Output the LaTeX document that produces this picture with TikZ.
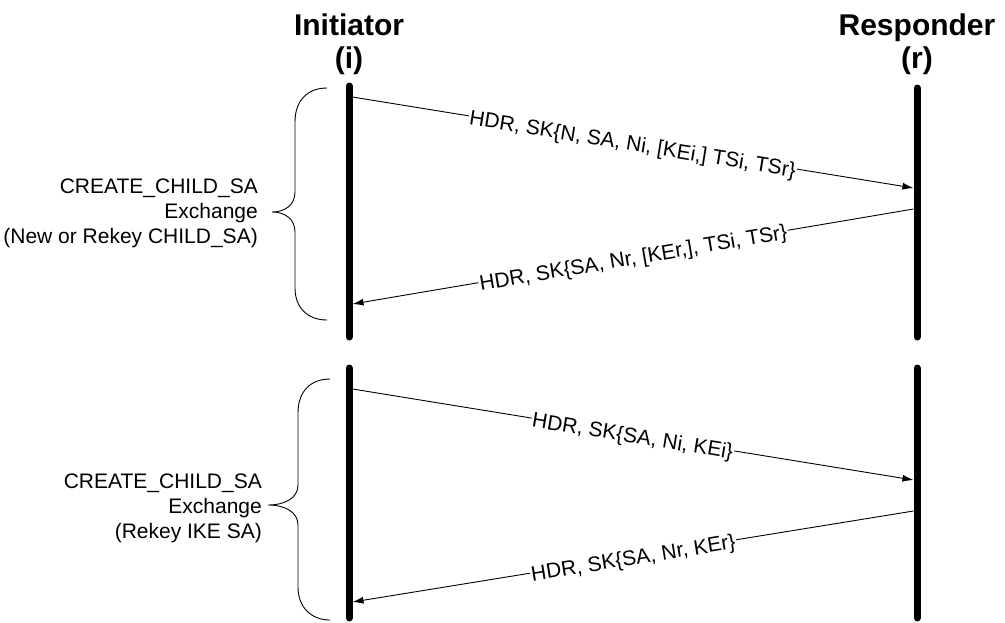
\documentclass[tikz,border=0pt]{standalone}
\usepackage{fontspec}
\setmainfont{Liberation Sans}
\usetikzlibrary{arrows.meta}
\begin{document}
\begin{tikzpicture}[x=1pt,y=-1pt,
  life/.style={line width=7pt, line cap=round},
  msg/.style={line width=0.9pt, -{Latex[length=11pt,width=7pt]}},
  mlabel/.style={sloped, fill=white, inner sep=1pt, yshift=-3pt, font=\fontsize{21}{25}\selectfont},
  hdr/.style={font=\fontsize{30}{35}\selectfont\bfseries, anchor=base, inner sep=0pt},
  side/.style={align=right, anchor=east, inner sep=0pt, font=\fontsize{21}{25}\selectfont},
  bracepath/.style={line width=0.9pt}]
\useasboundingbox (0,0) rectangle (1005,622);

% headers
\node[hdr] (init) at (349,35) {Initiator};
\node[hdr] (ii) at (349,68) {(i)};
\node[hdr] (resp) at (917,35) {Responder};
\node[hdr] (rr) at (917,68) {(r)};

% lifelines
\coordinate (i1t) at (349,86);  \coordinate (i1b) at (349,337);
\coordinate (i2t) at (349,368); \coordinate (i2b) at (349,618);
\coordinate (r1t) at (917,88);  \coordinate (r1b) at (917,337);
\coordinate (r2t) at (917,368); \coordinate (r2b) at (917,618);
\draw[life] (i1t) -- (i1b);
\draw[life] (i2t) -- (i2b);
\draw[life] (r1t) -- (r1b);
\draw[life] (r2t) -- (r2b);

% message end points
\coordinate (m1s) at (352.5,97);  \coordinate (m1e) at (913.5,188);
\coordinate (m2s) at (913.5,209); \coordinate (m2e) at (352.5,304);
\coordinate (m3s) at (352.5,389); \coordinate (m3e) at (913.5,480);
\coordinate (m4s) at (913.5,511); \coordinate (m4e) at (352.5,602);

\draw[msg] (m1s) -- node[mlabel] (l1) {HDR, SK\{N, SA, Ni, [KEi,] TSi, TSr\}} (m1e);
\draw[msg] (m2s) -- node[mlabel] (l2) {HDR, SK\{SA, Nr, [KEr,], TSi, TSr\}} (m2e);
\draw[msg] (m3s) -- node[mlabel] (l3) {HDR, SK\{SA, Ni, KEi\}} (m3e);
\draw[msg] (m4s) -- node[mlabel] (l4) {HDR, SK\{SA, Nr, KEr\}} (m4e);

% braces
\coordinate (b1t) at (327,88); \coordinate (b1b) at (327,320); \coordinate (b1tip) at (272,212);
\draw[bracepath] (b1t) .. controls (308,88) and (295,100) .. (295,122)
  -- (295,192) .. controls (295,205) and (285,212) .. (b1tip)
  .. controls (285,212) and (295,219) .. (295,232)
  -- (295,288) .. controls (295,308) and (308,320) .. (b1b);
\coordinate (b2t) at (330,379); \coordinate (b2b) at (330,620); \coordinate (b2tip) at (268,505);
\draw[bracepath] (b2t) .. controls (311,379) and (298,391) .. (298,413)
  -- (298,485) .. controls (298,498) and (285,505) .. (b2tip)
  .. controls (285,505) and (298,512) .. (298,525)
  -- (298,587) .. controls (298,607) and (311,620) .. (b2b);

% side texts
\node[side] (s1) at (258,213) {CREATE\_CHILD\_SA\\Exchange\\(New or Rekey CHILD\_SA)};
\node[side] (s2) at (262,508) {CREATE\_CHILD\_SA\\Exchange\\(Rekey IKE SA)};
\end{tikzpicture}
\end{document}
